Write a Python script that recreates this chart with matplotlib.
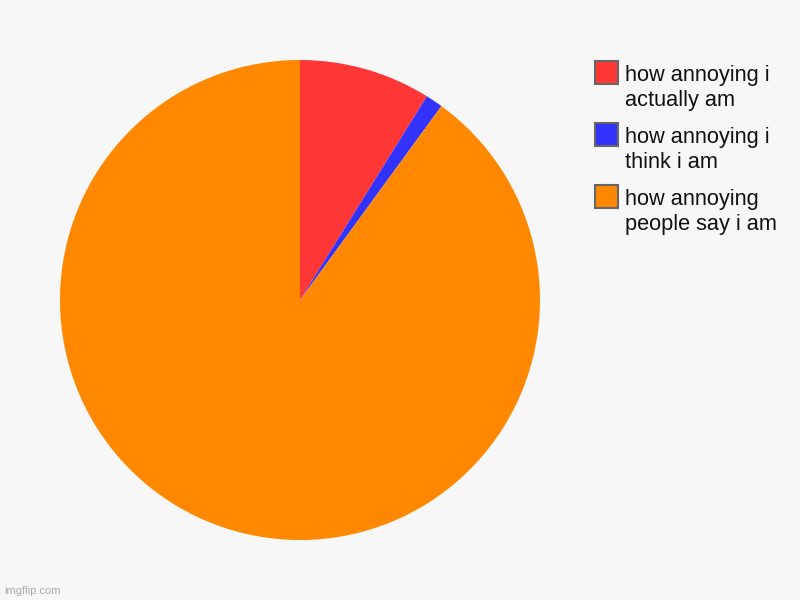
import matplotlib.pyplot as plt
from matplotlib.patches import Rectangle

plt.rcParams['font.family'] = ['Liberation Sans', 'DejaVu Sans']

labels = ["how annoying i\nactually am", "how annoying i\nthink i am", "how annoying\npeople say i am"]
values = [8.87, 1.16, 89.97]
colors = ["#FF3636", "#3333FF", "#FF8800"]

W, H = 800, 600
bg = "#F7F7F7"

fig = plt.figure(figsize=(8, 6), dpi=100, facecolor=bg)

# pie area: centre (300, 300), radius 240 px
ax = fig.add_axes([60 / W, 1 - 540 / H, 480 / W, 480 / H])
ax.set_facecolor(bg)
ax.pie(values, colors=colors, startangle=90, counterclock=False, radius=1,
       wedgeprops=dict(linewidth=0))
ax.set_xlim(-1, 1)
ax.set_ylim(-1, 1)
ax.set_aspect('equal')
ax.axis('off')

# legend drawn by hand to match the spacing
for i, (lab, col) in enumerate(zip(labels, colors)):
    top = 61 + i * 62
    fig.patches.append(Rectangle((595 / W, 1 - (top + 23) / H), 23 / W, 23 / H,
                                 transform=fig.transFigure, facecolor=col,
                                 edgecolor="#666666", linewidth=1.5))
    fig.text(625 / W, 1 - (top + 3.5) / H, lab, ha='left', va='top',
             fontsize=15.7, color="#111111", linespacing=1.3)

fig.text(4 / W, 1 - 591 / H, "imgflip.com", ha='left', va='center',
         fontsize=8, color="#AAAAAA")

plt.savefig("out.png", dpi=100, facecolor=bg)
